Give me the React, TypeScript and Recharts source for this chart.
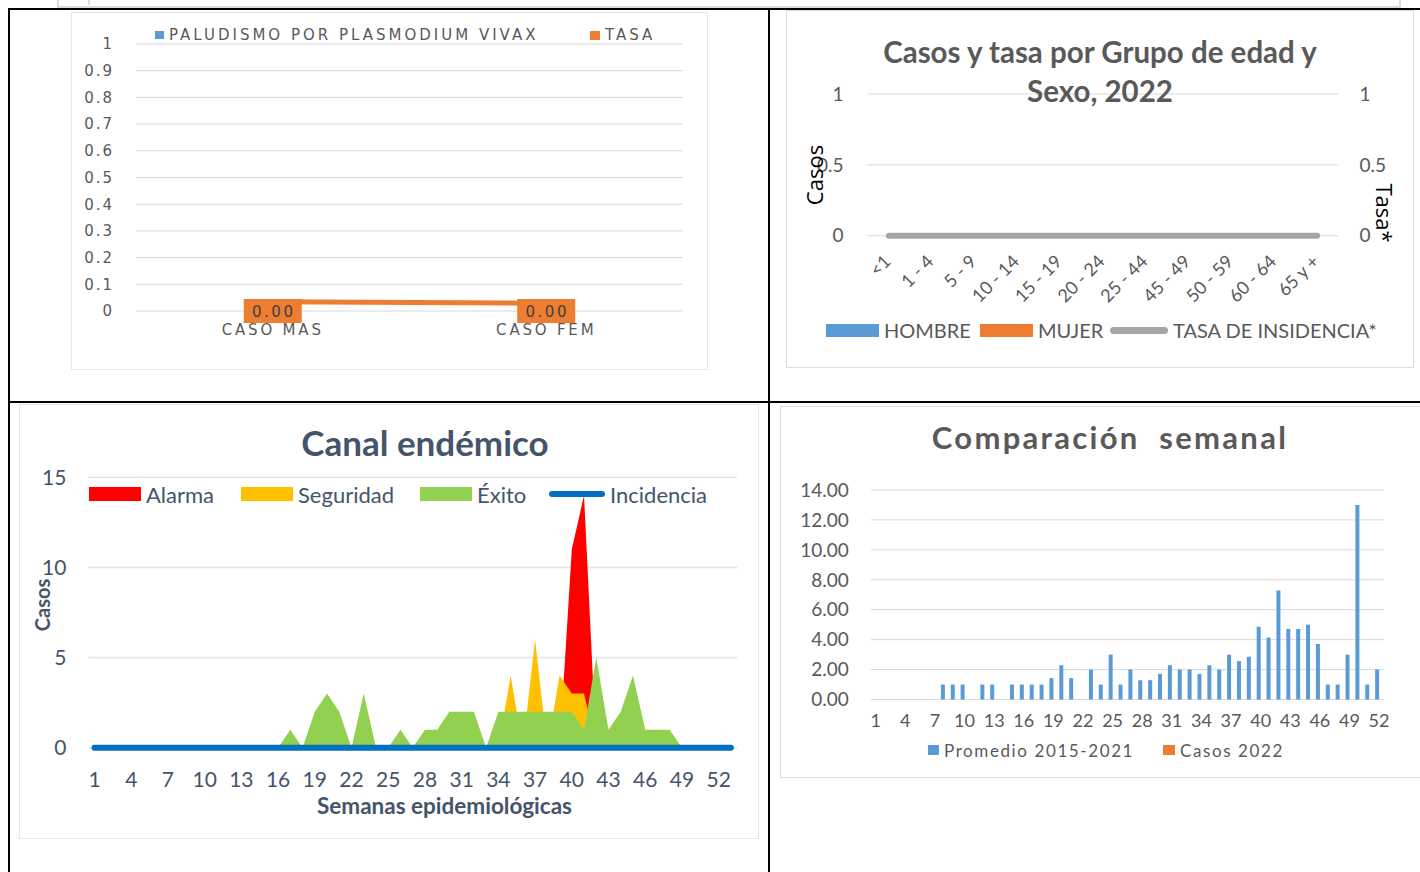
import React from 'react'
import {
  Area,
  Bar,
  BarChart,
  CartesianGrid,
  ComposedChart,
  LabelList,
  Legend,
  Line,
  XAxis,
  YAxis,
} from 'recharts'

// ---- data ----
const sexCategories = ['CASO MAS', 'CASO FEM']
const vivaxCases = [0, 0]
const tasaBySex = [0.0035, 0.0029] // plotted on a hidden secondary axis (0 - 0.1)

const ageGroups = ['<1', '1 - 4', '5 - 9', '10 - 14', '15 - 19', '20 - 24', '25 - 44', '45 - 49', '50 - 59', '60 - 64', '65 y +']
const hombre = [0, 0, 0, 0, 0, 0, 0, 0, 0, 0, 0]
const mujer = [0, 0, 0, 0, 0, 0, 0, 0, 0, 0, 0]
const tasaIncidencia = [0, 0, 0, 0, 0, 0, 0, 0, 0, 0, 0]

const weeks = Array.from({ length: 53 }, (_, i) => i + 1)

const alarma = [
  0, 0, 0, 0, 0, 0, 0, 0, 0, 0,
  0, 0, 0, 0, 0, 0, 0, 0, 0, 0,
  0, 0, 0, 0, 0, 0, 0, 0, 0, 0,
  0, 0, 0, 0, 0, 0, 0, 0, 0, 11,
  14, 0, 0, 0, 0, 0, 0, 0, 0, 0,
  0, 0,
]
const seguridad = [
  0, 0, 0, 0, 0, 0, 0, 0, 0, 0,
  0, 0, 0, 0, 0, 0, 0, 0, 0, 0,
  0, 0, 0, 0, 0, 0, 0, 0, 0, 0,
  0, 0, 0, 0, 4, 0, 6, 0, 4, 3,
  3, 0, 0, 0, 0, 0, 0, 0, 0, 0,
  0, 0,
]
const exito = [
  0, 0, 0, 0, 0, 0, 0, 0, 0, 0,
  0, 0, 0, 0, 0, 0, 1, 0, 2, 3,
  2, 0, 3, 0, 0, 1, 0, 1, 1, 2,
  2, 2, 0, 2, 2, 2, 2, 2, 2, 2,
  1, 5, 1, 2, 4, 1, 1, 1, 0, 0,
  0, 0,
]
const incidencia = [
  0, 0, 0, 0, 0, 0, 0, 0, 0, 0,
  0, 0, 0, 0, 0, 0, 0, 0, 0, 0,
  0, 0, 0, 0, 0, 0, 0, 0, 0, 0,
  0, 0, 0, 0, 0, 0, 0, 0, 0, 0,
  0, 0, 0, 0, 0, 0, 0, 0, 0, 0,
  0, 0, 0,
]

const promedio = [
  0, 0, 0, 0, 0, 0, 0, 1, 1, 1,
  0, 1, 1, 0, 1, 1, 1, 1, 1.43, 2.29,
  1.43, 0, 2, 1, 3, 1, 2, 1.29, 1.29, 1.71,
  2.29, 2, 2, 1.71, 2.29, 2, 3, 2.57, 2.86, 4.86,
  4.14, 7.29, 4.71, 4.71, 5, 3.71, 1, 1, 3, 13,
  1, 2,
]
const casos2022 = [
  0, 0, 0, 0, 0, 0, 0, 0, 0, 0,
  0, 0, 0, 0, 0, 0, 0, 0, 0, 0,
  0, 0, 0, 0, 0, 0, 0, 0, 0, 0,
  0, 0, 0, 0, 0, 0, 0, 0, 0, 0,
  0, 0, 0, 0, 0, 0, 0, 0, 0, 0,
  0, 0,
]

const FONT = 'Lato, "Open Sans", sans-serif'
const GOTHIC = '"DejaVu Sans", sans-serif'
const GRAY = '#595959'
const SLATE = '#44546A'
const GRID = '#d9d9d9'

type LegendItem = { label: string; color: string; x: number; kind: 'square' | 'rect' | 'line'; w: number; h: number }

const legendContent = (items: LegendItem[], textStyle: React.CSSProperties, rowH: number) => () => (
  <div style={{ position: 'relative', height: rowH }}>
    {items.map((it) => (
      <div key={it.label} style={{ position: 'absolute', left: it.x, top: 0, height: rowH, display: 'flex', alignItems: 'center', whiteSpace: 'nowrap' }}>
        <span
          style={{
            display: 'inline-block',
            width: it.w,
            height: it.h,
            background: it.color,
            borderRadius: it.kind === 'line' ? it.h / 2 : 0,
            marginRight: 5,
          }}
        />
        <span style={textStyle}>{it.label}</span>
      </div>
    ))}
  </div>
)

// orange data-label box sitting on the zero line of each category
const OrangeBoxLabel = (props: any) => {
  const { x, y, width, value } = props
  const cx = x + (width || 0) / 2
  return (
    <g>
      <rect x={cx - 29} y={y - 12} width={58} height={24} fill="#ED7D31" />
      <text x={cx + 1} y={y} dy={5.5} textAnchor="middle" fill="#404040" fontSize={15} letterSpacing={2.5} fontFamily={GOTHIC}>
        {Number(value).toFixed(2)}
      </text>
    </g>
  )
}

const VivaxChart = () => {
  const data = sexCategories.map((c, i) => ({ cat: c, vivax: vivaxCases[i], tasa: tasaBySex[i] }))
  const items: LegendItem[] = [
    { label: 'PALUDISMO POR PLASMODIUM VIVAX', color: '#5B9BD5', x: 84, kind: 'square', w: 9, h: 8 },
    { label: 'TASA', color: '#ED7D31', x: 519, kind: 'square', w: 10, h: 9 },
  ]
  const tick = { fill: GRAY, fontSize: 15, letterSpacing: 2, fontFamily: GOTHIC }
  return (
    <div style={{ position: 'absolute', left: 71, top: 12, width: 637, height: 358, boxShadow: 'inset 0 0 0 1px #e6e6e6' }}>
      <ComposedChart width={637} height={358} data={data} margin={{ top: 32, right: 25, bottom: 29, left: 15 }}>
        <CartesianGrid vertical={false} stroke={GRID} yAxisId="left" />
        <XAxis dataKey="cat" axisLine={false} tickLine={false} tickSize={0} tickMargin={13} tick={{ ...tick, letterSpacing: 2.8 }} />
        <YAxis
          yAxisId="left"
          domain={[0, 1]}
          ticks={[0, 0.1, 0.2, 0.3, 0.4, 0.5, 0.6, 0.7, 0.8, 0.9, 1]}
          width={50}
          axisLine={false}
          tickLine={false}
          tickSize={0}
          tickMargin={22}
          tick={tick}
        />
        <YAxis yAxisId="right" orientation="right" domain={[0, 0.1]} hide />
        <Bar yAxisId="left" dataKey="vivax" name="PALUDISMO POR PLASMODIUM VIVAX" fill="#5B9BD5" isAnimationActive={false} />
        <Line yAxisId="right" dataKey="tasa" name="TASA" stroke="#ED7D31" strokeWidth={5} dot={false} isAnimationActive={false} />
        <Line yAxisId="left" dataKey="vivax" legendType="none" stroke="none" dot={false} isAnimationActive={false}>
          <LabelList dataKey="vivax" content={OrangeBoxLabel} />
        </Line>
        <Legend
          layout="horizontal"
          verticalAlign="middle"
          align="center"
          wrapperStyle={{ top: 13, left: 0, width: 637 }}
          content={legendContent(items, { fontFamily: GOTHIC, fontSize: 15, color: GRAY, letterSpacing: 3 }, 20)}
        />
      </ComposedChart>
    </div>
  )
}

const AgeTick = (props: any) => {
  const { x, y, payload } = props
  return (
    <g transform={`translate(${x + 3},${y + 19})`}>
      <text x={0} y={0} textAnchor="end" transform="rotate(-45)" fill={GRAY} fontSize={18} fontFamily={FONT}>
        {payload.value}
      </text>
    </g>
  )
}

const AgeSexChart = () => {
  const data = ageGroups.map((g, i) => ({ g, hombre: hombre[i], mujer: mujer[i], tasa: tasaIncidencia[i] }))
  const items: LegendItem[] = [
    { label: 'HOMBRE', color: '#5B9BD5', x: 40, kind: 'rect', w: 53, h: 13 },
    { label: 'MUJER', color: '#ED7D31', x: 194, kind: 'rect', w: 53, h: 13 },
    { label: 'TASA DE INSIDENCIA*', color: '#A5A5A5', x: 324, kind: 'line', w: 58, h: 7 },
  ]
  const tick = { fill: GRAY, fontSize: 19, fontFamily: FONT }
  return (
    <div style={{ position: 'absolute', left: 786, top: 10, width: 628, height: 358, boxShadow: 'inset 0 0 0 1px #e0e0e0' }}>
      <ComposedChart width={628} height={358} data={data} margin={{ top: 84, right: 35.5, bottom: 52.3, left: 41.5 }}>
        <CartesianGrid vertical={false} stroke={GRID} yAxisId="casos" />
        <XAxis dataKey="g" axisLine={false} tickLine={false} interval={0} height={80} tick={<AgeTick />} />
        <YAxis yAxisId="casos" domain={[0, 1]} ticks={[0, 0.5, 1]} width={40} axisLine={false} tickLine={false} tickSize={0} tickMargin={24} tick={tick} />
        <YAxis yAxisId="tasa" orientation="right" domain={[0, 1]} ticks={[0, 0.5, 1]} width={40} axisLine={false} tickLine={false} tickSize={0} tickMargin={21} tick={{ ...tick, textAnchor: 'start' }} />
        <Bar yAxisId="casos" dataKey="hombre" name="HOMBRE" fill="#5B9BD5" isAnimationActive={false} />
        <Bar yAxisId="casos" dataKey="mujer" name="MUJER" fill="#ED7D31" isAnimationActive={false} />
        <Line yAxisId="tasa" dataKey="tasa" name="TASA DE INSIDENCIA*" stroke="#A5A5A5" strokeWidth={6} strokeLinecap="round" dot={false} isAnimationActive={false} />
        <Legend
          layout="horizontal"
          verticalAlign="middle"
          align="center"
          wrapperStyle={{ top: 307, left: 0, width: 628 }}
          content={legendContent(items, { fontFamily: FONT, fontSize: 20, color: GRAY }, 26)}
        />
      </ComposedChart>
      <div style={{ position: 'absolute', left: 0, top: 22, width: 628, textAlign: 'center', fontFamily: FONT, fontWeight: 700, fontSize: 29.5, lineHeight: '39px', color: GRAY }}>
        Casos y tasa por Grupo de edad y<br />Sexo, 2022
      </div>
      <div style={{ position: 'absolute', left: 28, top: 165, transform: 'translate(-50%,-50%) rotate(-90deg)', fontFamily: '"Open Sans", sans-serif', fontSize: 22, color: '#000', whiteSpace: 'nowrap' }}>
        Casos
      </div>
      <div style={{ position: 'absolute', left: 599, top: 203, transform: 'translate(-50%,-50%) rotate(90deg)', fontFamily: '"Open Sans", sans-serif', fontSize: 22, color: '#000', whiteSpace: 'nowrap' }}>
        Tasa*
      </div>
    </div>
  )
}

const EndemicChart = () => {
  const data = weeks.map((w, i) => ({
    week: w,
    alarma: alarma[i] ?? null,
    seguridad: seguridad[i] ?? null,
    exito: exito[i] ?? null,
    incidencia: incidencia[i],
  }))
  const items: LegendItem[] = [
    { label: 'Alarma', color: '#FF0000', x: 70, kind: 'rect', w: 52, h: 14 },
    { label: 'Seguridad', color: '#FFC000', x: 222, kind: 'rect', w: 52, h: 14 },
    { label: 'Éxito', color: '#92D050', x: 401, kind: 'rect', w: 52, h: 14 },
    { label: 'Incidencia', color: '#0070C0', x: 530, kind: 'line', w: 56, h: 6 },
  ]
  const tick = { fill: SLATE, fontSize: 21, fontFamily: FONT }
  return (
    <div style={{ position: 'absolute', left: 19, top: 404, width: 740, height: 435, boxShadow: 'inset 0 0 0 1px #e3e6ea' }}>
      <ComposedChart width={740} height={435} data={data} margin={{ top: 73.3, right: 22, bottom: 51.3, left: 29.4 }}>
        <CartesianGrid vertical={false} stroke="#e1e4e8" strokeWidth={1.5} />
        <XAxis dataKey="week" scale="band" interval={2} height={40} axisLine={false} tickLine={false} tickSize={0} tickMargin={24} tick={tick} />
        <YAxis domain={[0, 15]} ticks={[0, 5, 10, 15]} width={40} axisLine={false} tickLine={false} tickSize={0} tickMargin={22} tick={tick} />
        <Area type="linear" dataKey="alarma" name="Alarma" fill="#FF0000" fillOpacity={1} stroke="none" isAnimationActive={false} />
        <Area type="linear" dataKey="seguridad" name="Seguridad" fill="#FFC000" fillOpacity={1} stroke="none" isAnimationActive={false} />
        <Area type="linear" dataKey="exito" name="Éxito" fill="#92D050" fillOpacity={1} stroke="none" isAnimationActive={false} />
        <Line type="linear" dataKey="incidencia" name="Incidencia" stroke="#0070C0" strokeWidth={6} strokeLinecap="round" dot={false} isAnimationActive={false} />
        <Legend
          layout="horizontal"
          verticalAlign="middle"
          align="center"
          wrapperStyle={{ top: 76, left: 0, width: 740 }}
          content={legendContent(items, { fontFamily: FONT, fontSize: 22, color: SLATE }, 28)}
        />
      </ComposedChart>
      <div style={{ position: 'absolute', left: 0, top: 17, width: 812, textAlign: 'center', fontFamily: FONT, fontWeight: 700, fontSize: 35, lineHeight: '42px', color: SLATE }}>
        Canal endémico
      </div>
      <div style={{ position: 'absolute', left: 0, top: 388, width: 851, textAlign: 'center', fontFamily: FONT, fontWeight: 700, fontSize: 22.5, lineHeight: '28px', color: SLATE }}>
        Semanas epidemiológicas
      </div>
      <div style={{ position: 'absolute', left: 23, top: 201, transform: 'translate(-50%,-50%) rotate(-90deg)', fontFamily: FONT, fontWeight: 700, fontSize: 20, color: SLATE, whiteSpace: 'nowrap' }}>
        Casos
      </div>
    </div>
  )
}

const WeeklyChart = () => {
  const data = weeks.slice(0, 52).map((w, i) => ({ week: w, promedio: promedio[i], casos: casos2022[i] }))
  const items: LegendItem[] = [
    { label: 'Promedio 2015-2021', color: '#5B9BD5', x: 148, kind: 'square', w: 11, h: 10 },
    { label: 'Casos 2022', color: '#ED7D31', x: 383, kind: 'square', w: 12, h: 10 },
  ]
  const tick = { fill: GRAY, fontSize: 18, fontFamily: FONT }
  return (
    <div style={{ position: 'absolute', left: 780, top: 406, width: 645, height: 372, boxShadow: 'inset 0 0 0 1px #e0e0e0' }}>
      <BarChart width={645} height={372} data={data} margin={{ top: 84, right: 41, bottom: 48.5, left: 30.8 }} barCategoryGap={1} barGap={0}>
        <CartesianGrid vertical={false} stroke={GRID} />
        <XAxis dataKey="week" interval={2} height={30} axisLine={false} tickLine={false} tickSize={0} tickMargin={15} tick={tick} />
        <YAxis
          domain={[0, 14]}
          ticks={[0, 2, 4, 6, 8, 10, 12, 14]}
          tickFormatter={(v: number) => v.toFixed(2)}
          width={60}
          axisLine={false}
          tickLine={false}
          tickSize={0}
          tickMargin={22}
          tick={{ ...tick, fontSize: 19 }}
        />
        <Bar dataKey="promedio" name="Promedio 2015-2021" fill="#5B9BD5" isAnimationActive={false} />
        <Bar dataKey="casos" name="Casos 2022" fill="#ED7D31" isAnimationActive={false} />
        <Legend
          layout="horizontal"
          verticalAlign="middle"
          align="center"
          wrapperStyle={{ top: 332, left: 0, width: 645 }}
          content={legendContent(items, { fontFamily: FONT, fontSize: 17, color: GRAY, letterSpacing: 1.6 }, 24)}
        />
      </BarChart>
      <div style={{ position: 'absolute', left: 0, top: 12, width: 660, textAlign: 'center', fontFamily: FONT, fontWeight: 700, fontSize: 31, lineHeight: '38px', color: GRAY, letterSpacing: 2.3, whiteSpace: 'pre' }}>
        {'Comparación  semanal'}
      </div>
    </div>
  )
}

const line = (left: number, top: number, width: number, height: number, color = '#000'): React.CSSProperties => ({
  position: 'absolute',
  left,
  top,
  width,
  height,
  background: color,
})

export default function App() {
  return (
    <div style={{ position: 'absolute', left: 0, top: 0, width: 1420, height: 872, overflow: 'hidden', background: '#fff' }}>
      {/* remnant of the table above */}
      <div style={{ position: 'absolute', left: 57, top: -4, width: 1340, height: 8, border: '2px solid #dcdcdc' }} />
      <div style={line(88, 0, 2, 5, '#dcdcdc')} />
      {/* black frame */}
      <div style={line(8, 8, 1412, 2)} />
      <div style={line(8, 8, 2, 864)} />
      <div style={line(768, 8, 2, 864)} />
      <div style={line(8, 401, 1412, 2)} />
      <VivaxChart />
      <AgeSexChart />
      <EndemicChart />
      <WeeklyChart />
    </div>
  )
}
